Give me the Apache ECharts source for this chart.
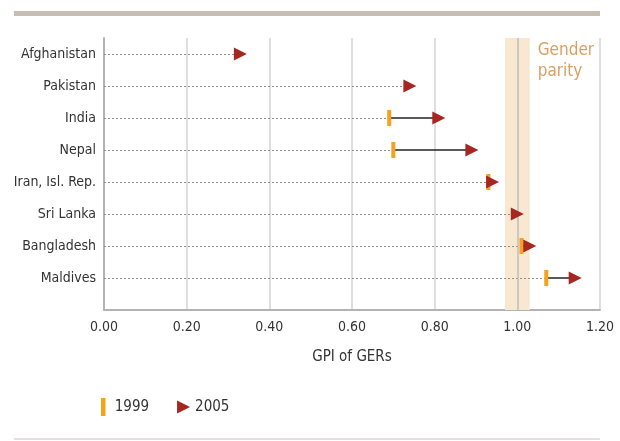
<!DOCTYPE html>
<html>
<head>
<meta charset="utf-8">
<script src="https://cdn.jsdelivr.net/npm/echarts@6/dist/echarts.min.js"></script>
<style>
html,body{margin:0;padding:0;background:#fff;}
#chart{width:620px;height:441px;}
</style>
</head>
<body>
<div id="chart"></div>
<script>
// ---- data ----
const categories = ['Afghanistan','Pakistan','India','Nepal','Iran, Isl. Rep.','Sri Lanka','Bangladesh','Maldives'];
const gpi1999 = [null, null, 0.69, 0.70, 0.93, null, 1.01, 1.07];
const gpi2005 = [0.33, 0.74, 0.81, 0.89, 0.94, 1.00, 1.03, 1.14];
const xTicks = [0, 0.2, 0.4, 0.6, 0.8, 1.0, 1.2];
const parityBand = [0.97, 1.03];
const parityLine = 1.0;

const FONT = "'Liberation Sans Narrow','DejaVu Sans Condensed','Roboto',sans-serif";

const dotted = categories.map((c, i) => ({coords: [[0, i], [gpi1999[i] != null ? gpi1999[i] : gpi2005[i], i]]}));
const solid = categories.map((c, i) => gpi1999[i] != null ? {coords: [[gpi1999[i], i], [gpi2005[i], i]]} : null).filter(Boolean);
const pts1999 = categories.map((c, i) => gpi1999[i] != null ? [gpi1999[i], i] : null).filter(Boolean);
const pts2005 = categories.map((c, i) => [gpi2005[i], i]);

const chart = echarts.init(document.getElementById('chart'), null, {renderer: 'canvas'});
chart.setOption({
  animation: false,
  textStyle: {fontFamily: FONT},
  grid: {left: 104, right: 20, top: 38, bottom: 131},
  graphic: [
    {type: 'rect', left: 14, top: 11, shape: {width: 586, height: 5}, style: {fill: '#c6bdb3'}},
    {type: 'rect', left: 14, top: 438, shape: {width: 586, height: 2}, style: {fill: '#e4e1dc'}}
  ],
  legend: {
    left: 96, top: 393,
    itemWidth: 13, itemHeight: 18, itemGap: 28,
    textStyle: {fontFamily: FONT, fontSize: 15, color: '#333'},
    data: [
      {name: '1999', icon: 'path://M0,0h4v16h-4z'},
      {name: '2005', icon: 'path://M0,0L13,6.5L0,13Z'}
    ]
  },
  xAxis: {
    type: 'value', min: 0, max: 1.2, interval: 0.2,
    name: 'GPI of GERs', nameLocation: 'middle', nameGap: 40,
    nameTextStyle: {fontFamily: FONT, fontSize: 15, color: '#333'},
    axisLine: {show: true, onZero: false, lineStyle: {color: '#b3b3b3', width: 2}},
    axisTick: {show: false},
    axisLabel: {margin: 10, fontFamily: FONT, fontSize: 14, color: '#333',
      formatter: v => xTicks.some(t => Math.abs(t - v) < 1e-9) ? v.toFixed(2) : ''},
    splitLine: {show: true, lineStyle: {color: '#d4d4d4', width: 1.5}}
  },
  yAxis: {
    type: 'value', min: -0.5, max: 8, inverse: true,
    axisLine: {show: true, onZero: false, lineStyle: {color: '#b3b3b3', width: 2}},
    axisTick: {show: false},
    splitLine: {show: false},
    axisLabel: {
      margin: 8, fontFamily: FONT, fontSize: 14, color: '#333',
      customValues: categories.map((c, i) => i),
      formatter: v => (Number.isInteger(v) && categories[v] !== undefined) ? categories[v] : ''
    }
  },
  series: [
    {
      type: 'lines', coordinateSystem: 'cartesian2d', name: 'dots', z: 3,
      silent: true,
      lineStyle: {color: '#8f8f8f', width: 1, type: [2, 2], opacity: 1},
      data: dotted,
      markArea: {
        silent: true,
        itemStyle: {color: '#f9e8d1'},
        label: {show: true, position: ['100%', 0], offset: [8, 2], align: 'left', verticalAlign: 'top',
          formatter: 'Gender\nparity', fontFamily: FONT, fontSize: 17, lineHeight: 21, color: '#d99f62'},
        data: [[{xAxis: parityBand[0]}, {xAxis: parityBand[1]}]]
      },
      markLine: {
        silent: true, symbol: 'none', label: {show: false},
        lineStyle: {color: '#bdbdbd', width: 1.5, type: 'solid'},
        data: [{xAxis: parityLine}]
      }
    },
    {
      type: 'lines', coordinateSystem: 'cartesian2d', name: 'change', z: 4,
      silent: true,
      lineStyle: {color: '#222', width: 1.5, type: 'solid', opacity: 1},
      data: solid
    },
    {
      type: 'scatter', name: '1999', z: 5,
      symbol: 'rect', symbolSize: [4, 16],
      itemStyle: {color: '#f7a11c', opacity: 1},
      data: pts1999
    },
    {
      type: 'scatter', name: '2005', z: 6,
      symbol: 'path://M0,0L13,6.5L0,13Z', symbolSize: [13, 13],
      itemStyle: {color: '#a82620', opacity: 1},
      data: pts2005
    }
  ]
});
</script>
</body>
</html>
